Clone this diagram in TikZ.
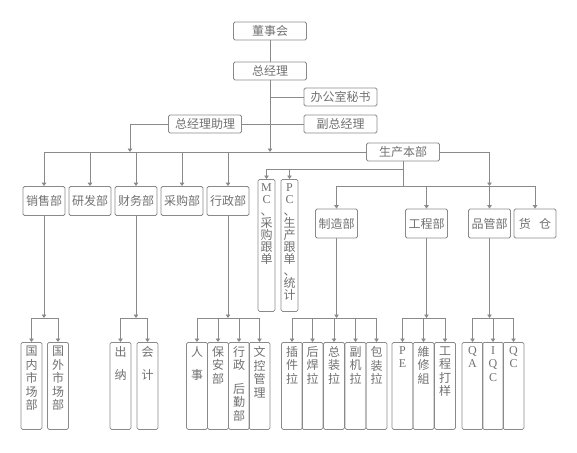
\documentclass[tikz,border=0pt]{standalone}
\usepackage{fontspec}
\setmainfont{Noto Sans CJK SC}
\newfontfamily\latfont{Liberation Serif}
\usetikzlibrary{arrows.meta}
\definecolor{linegray}{RGB}{138,138,138}
\definecolor{txtgray}{RGB}{112,112,112}
\newcommand{\vcol}[3]{\parbox[t][#1][t]{14pt}{\centering\fontsize{12}{#2}\selectfont\vspace*{4pt}#3}}

\begin{document}
\begin{tikzpicture}[
      x=1pt, y=-1pt,
      every node/.style={font=\fontsize{12}{14}\selectfont, text=txtgray},
      head/.style={draw=linegray, line width=0.8pt, rounded corners=1.5pt, inner sep=0pt, minimum width=73pt, minimum height=18pt},
      dept/.style={draw=linegray, line width=0.8pt, rounded corners=1.5pt, inner sep=0pt, minimum width=42pt, minimum height=29pt},
      tall/.style={draw=linegray, line width=0.8pt, rounded corners=1.5pt, inner sep=0pt, minimum width=17pt, anchor=north},
      leaf/.style={draw=linegray, line width=0.8pt, rounded corners=1.5pt, inner sep=0pt, minimum width=21pt, anchor=north},
      link/.style={draw=linegray, line width=0.8pt},
      arrow/.style={link, -{Triangle[width=4.5pt,length=3.5pt]}}
  ]
    \useasboundingbox (0,0) rectangle (577,452);
    % top management
    \node[head] (board) at (270,31) {董事会};
    \node[head] (gm) at (270,71) {总经理};
    \node[head] (sec) at (340.5,97) {办公室秘书};
    \node[head] (vgm) at (340.5,124) {副总经理};
    \node[head] (asst) at (205,124) {总经理助理};
    \node[head] (prod) at (403,152) {生产本部};
    % departments
    \node[dept] (sales) at (44,201) {销售部};
    \node[dept] (rd) at (90,201) {研发部};
    \node[dept] (fin) at (136,201) {财务部};
    \node[dept] (pur) at (182,201) {采购部};
    \node[dept] (adm) at (228,201) {行政部};
    \node[tall] (mc) at (266.5,179) {\vcol{132pt}{12pt}{{\latfont M}\\{\latfont C}\\、\\采\\购\\跟\\单}};
    \node[tall] (pc) at (289.5,179) {\vcol{132pt}{12pt}{{\latfont P}\\{\latfont C}\\、\\生\\产\\跟\\单\\、\\统\\计}};
    \node[dept] (mfg) at (336.5,223.5) {制造部};
    \node[dept] (eng) at (426.5,223.5) {工程部};
    \node[dept] (qm) at (489.5,223.5) {品管部};
    \node[dept] (wh) at (535,223.5) {货\hspace{0.7em}仓};
    % sections
    \node[leaf] (dom) at (31.5,342) {\vcol{87pt}{13.5pt}{国\\内\\市\\场\\部}};
    \node[leaf] (abr) at (58,342) {\vcol{87pt}{13.5pt}{国\\外\\市\\场\\部}};
    \node[leaf] (cash) at (120.5,342) {\vcol{87pt}{13.5pt}{出\\[10pt]纳}};
    \node[leaf] (acct) at (147.5,342) {\vcol{87pt}{13.5pt}{会\\[10pt]计}};
    \node[leaf] (hr) at (197,342) {\vcol{87pt}{13.5pt}{人\\[10pt]事}};
    \node[leaf] (guard) at (218,342) {\vcol{87pt}{13.5pt}{保\\安\\部}};
    \node[leaf] (logi) at (239,342) {\vcol{87pt}{13.5pt}{行\\政\\[10pt]后\\勤\\部}};
    \node[leaf] (doc) at (259.5,342) {\vcol{87pt}{13.5pt}{文\\控\\管\\理}};
    \node[leaf] (ins) at (292,342) {\vcol{87pt}{13.5pt}{插\\件\\拉}};
    \node[leaf] (weld) at (312.5,342) {\vcol{87pt}{13.5pt}{后\\焊\\拉}};
    \node[leaf] (asm) at (334,342) {\vcol{87pt}{13.5pt}{总\\装\\拉}};
    \node[leaf] (sub) at (355.5,342) {\vcol{87pt}{13.5pt}{副\\机\\拉}};
    \node[leaf] (pack) at (376.5,342) {\vcol{87pt}{13.5pt}{包\\装\\拉}};
    \node[leaf] (pe) at (402.5,342) {\vcol{87pt}{13.5pt}{{\latfont P}\\{\latfont E}}};
    \node[leaf] (repair) at (423.5,342) {\vcol{87pt}{13.5pt}{維\\修\\組}};
    \node[leaf] (sample) at (445,342) {\vcol{87pt}{13.5pt}{工\\程\\打\\样}};
    \node[leaf] (qa) at (472.5,342) {\vcol{87pt}{13.5pt}{{\latfont Q}\\{\latfont A}}};
    \node[leaf] (iqc) at (493,342) {\vcol{87pt}{13.5pt}{{\latfont I}\\{\latfont Q}\\{\latfont C}}};
    \node[leaf] (qc) at (513.5,342) {\vcol{87pt}{13.5pt}{{\latfont Q}\\{\latfont C}}};
    % bus points
    \coordinate (bus) at (44,152);
    \coordinate (asstdrop) at (130,152);
    \coordinate (mcbus) at (266.5,169);
    \coordinate (pbus) at (336.5,186);
    \coordinate (qmjoin) at (489.5,186);
    \coordinate (lbus) at (0,318);
    % management links
    \draw[link] (board) -- (gm);
    \draw[arrow] (gm) -- (gm |- bus);
    \draw[link] (sec) -- (sec -| gm);
    \draw[link] (asst) -- (vgm);
    \draw[arrow] (asst.west) -| (asstdrop);
    \draw[link] (bus) -- (prod);
    \draw[arrow] (prod.east) -| (qmjoin);
    \draw[arrow] (sales |- bus) -- (sales);
    \draw[arrow] (rd |- bus) -- (rd);
    \draw[arrow] (fin |- bus) -- (fin);
    \draw[arrow] (pur |- bus) -- (pur);
    \draw[arrow] (adm |- bus) -- (adm);
    % production links
    \draw[link] (prod) -- (prod |- pbus);
    \draw[link] (mc |- mcbus) -- (prod |- mcbus);
    \draw[arrow] (mc |- mcbus) -- (mc);
    \draw[arrow] (pc |- mcbus) -- (pc);
    \draw[link] (pbus) -- (wh |- pbus);
    \draw[arrow] (pbus) -- (mfg);
    \draw[arrow] (eng |- pbus) -- (eng);
    \draw[arrow] (qm |- pbus) -- (qm);
    \draw[arrow] (wh |- pbus) -- (wh);
    % section links
    \draw[arrow] (sales) -- (sales |- lbus);
    \draw[link] (dom |- lbus) -- (abr |- lbus);
    \draw[arrow] (dom |- lbus) -- (dom);
    \draw[arrow] (abr |- lbus) -- (abr);
    \draw[arrow] (fin) -- (fin |- lbus);
    \draw[link] (cash |- lbus) -- (acct |- lbus);
    \draw[arrow] (cash |- lbus) -- (cash);
    \draw[arrow] (acct |- lbus) -- (acct);
    \draw[arrow] (adm) -- (adm |- lbus);
    \draw[link] (hr |- lbus) -- (doc |- lbus);
    \draw[arrow] (hr |- lbus) -- (hr);
    \draw[arrow] (guard |- lbus) -- (guard);
    \draw[arrow] (logi |- lbus) -- (logi);
    \draw[arrow] (doc |- lbus) -- (doc);
    \draw[arrow] (mfg) -- (mfg |- lbus);
    \draw[link] (ins |- lbus) -- (pack |- lbus);
    \draw[arrow] (ins |- lbus) -- (ins);
    \draw[arrow] (weld |- lbus) -- (weld);
    \draw[arrow] (asm |- lbus) -- (asm);
    \draw[arrow] (sub |- lbus) -- (sub);
    \draw[arrow] (pack |- lbus) -- (pack);
    \draw[arrow] (eng) -- (eng |- lbus);
    \draw[link] (pe |- lbus) -- (sample |- lbus);
    \draw[arrow] (pe |- lbus) -- (pe);
    \draw[arrow] (repair |- lbus) -- (repair);
    \draw[arrow] (sample |- lbus) -- (sample);
    \draw[arrow] (qm) -- (qm |- lbus);
    \draw[link] (qa |- lbus) -- (qc |- lbus);
    \draw[arrow] (qa |- lbus) -- (qa);
    \draw[arrow] (iqc |- lbus) -- (iqc);
    \draw[arrow] (qc |- lbus) -- (qc);
  \end{tikzpicture}
\end{document}
